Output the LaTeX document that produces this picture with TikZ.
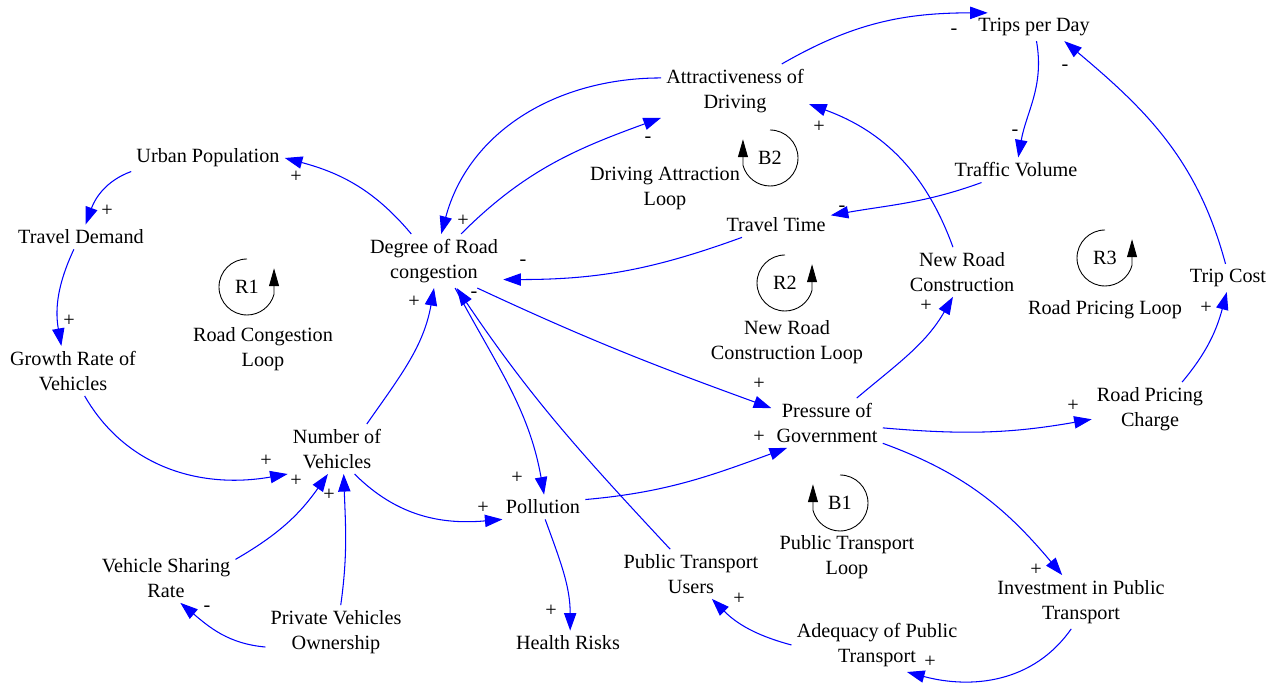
\documentclass[tikz,border=0pt]{standalone}
\usepackage{fontspec}
\setmainfont{Liberation Serif}
\usetikzlibrary{arrows.meta}

\begin{document}
\begin{tikzpicture}[x=0.02cm, y=0.02cm,
    every node/.style={font=\fontsize{11.5}{14.2}\selectfont},
    var/.style={align=center, inner sep=2.8pt},
    sign/.style={inner sep=0pt},
    link/.style={draw=blue, line width=0.6pt, -{Triangle[length=10pt,width=7pt]}},
    loopmark/.style={draw=black, line width=0.5pt, -{Triangle[length=0.36cm,width=0.2cm]}}]
    \useasboundingbox (0,0) rectangle (1282,-685);

    \node[var] (trips) at (1034,-27) {Trips per Day};
    \node[var] (att) at (735,-91) {Attractiveness of\\Driving};
    \node[var] (up) at (208,-158) {Urban Population};
    \node[var] (td) at (81,-237) {Travel Demand};
    \node[var] (tv) at (1016,-170) {Traffic Volume};
    \node[var] (tt) at (776,-225) {Travel Time};
    \node[var] (drc) at (434,-261) {Degree of Road\\congestion};
    \node[var] (nrc) at (962,-272) {New Road\\Construction};
    \node[var] (tc) at (1228,-278) {Trip Cost};
    \node[var] (grv) at (73,-371) {Growth Rate of\\Vehicles};
    \node[var] (nv) at (337,-449) {Number of\\Vehicles};
    \node[var] (pg) at (827,-423) {Pressure of\\Government};
    \node[var] (rpc) at (1150,-409) {Road Pricing\\Charge};
    \node[var] (pol) at (543,-507) {Pollution};
    \node[var] (ptu) at (691,-574) {Public Transport\\Users};
    \node[var] (hr) at (568,-643) {Health Risks};
    \node[var] (vsr) at (166,-578) {Vehicle Sharing\\Rate};
    \node[var] (pvo) at (336,-632) {Private Vehicles\\Ownership};
    \node[var] (apt) at (877,-645) {Adequacy of Public\\Transport};
    \node[var] (ipt) at (1081,-602) {Investment in Public\\Transport};

    \node[var] (dal) at (665,-188) {Driving Attraction\\Loop};
    \node[var] (rcl) at (263,-349) {Road Congestion\\Loop};
    \node[var] (nrcl) at (787,-342) {New Road\\Construction Loop};
    \node[var] (rpl) at (1105,-310) {Road Pricing Loop};
    \node[var] (ptl) at (847,-557) {Public Transport\\Loop};

    \foreach \nm/\x/\y in {R1/247/287, R2/785/283, R3/1105/258} {
        \node (\nm) at (\x,-\y) {\nm};
        \draw[loopmark] (\x,-\y) ++(90:28) arc[start angle=90, end angle=345, radius=0.56cm] -- ++(0,26);
    }
    \foreach \nm/\x/\y in {B1/840/503, B2/770/158} {
        \node (\nm) at (\x,-\y) {\nm};
        \draw[loopmark] (\x,-\y) ++(90:28) arc[start angle=90, end angle=-165, radius=0.56cm] -- ++(0,26);
    }

    \draw[link] (att) to[out=30,in=180] (trips.163);
    \draw[link] (trips) to[out=-80,in=80] (tv);
    \draw[link] (tv) to[out=200,in=10] (tt);
    \draw[link] (tt) to[out=200,in=0] (drc.-15);
    \draw[link] (att.170) to[out=180,in=75] (drc);
    \draw[link] (drc) to[out=45,in=200] (att);
    \draw[link] (nrc) to[out=110,in=-20] (att.-10);
    \draw[link] (drc) to[out=130,in=-15] (up.east);
    \draw[link] (up.190) to[out=200,in=70] (td.70);
    \draw[link] (td.-120) to[out=-115,in=100] (grv.115);
    \draw[link] (grv.-65) to[out=-60,in=190] (nv.south west);
    \draw[link] (nv.40) to[out=55,in=-100] (drc.south);
    \draw[link] (vsr.15) to[out=30,in=-125] (nv.-110);
    \draw[link] (pvo.80) to[out=82,in=-88] (nv.-75);
    \draw[link] (pvo.192) to[out=175,in=-40] (vsr.-60);
    \draw[link] (nv.-55) to[out=-45,in=185] (pol.197);
    \draw[link] (drc.-52) to[out=-62,in=100] (pol.85);
    \draw[link] (ptu.130) to[out=133,in=-56] (drc.-50);
    \draw[link] (drc.-32) to[out=-25,in=160] (pg.165);
    \draw[link] (pol.10) to[out=5,in=200] (pg.212);
    \draw[link] (pg.40) to[out=40,in=-120] (nrc.-110);
    \draw[link] (pg.-5) to[out=-5,in=190] (rpc.190);
    \draw[link] (rpc.40) to[out=50,in=-105] (tc.-95);
    \draw[link] (tc.100) to[out=105,in=-40] (trips.-25);
    \draw[link] (pg.-20) to[out=-20,in=130] (ipt.125);
    \draw[link] (ipt.-110) to[out=-125,in=-15] (apt.-42);
    \draw[link] (apt.west) to[out=165,in=-45] (ptu.-50);
    \draw[link] (pol.-80) to[out=-70,in=90] (hr.80);

    \foreach \x/\y/\s [count=\i] in {954/32/-, 1065/68/-, 1015/133/-, 819/127/+, 842/209/-,
        926/306/+, 1206/308/+, 648/140/-, 463/221/+, 523/263/-, 296/177/+, 107/211/+,
        69/321/+, 266/461/+, 296/481/+, 329/495/+, 207/609/-, 414/302/+, 474/295/-,
        759/384/+, 759/437/+, 517/478/+, 483/508/+, 551/611/+, 739/599/+, 1073/406/+,
        1036/570/+, 930/662/+}
        \node[sign] (sg\i) at (\x,-\y) {\s};
\end{tikzpicture}
\end{document}
